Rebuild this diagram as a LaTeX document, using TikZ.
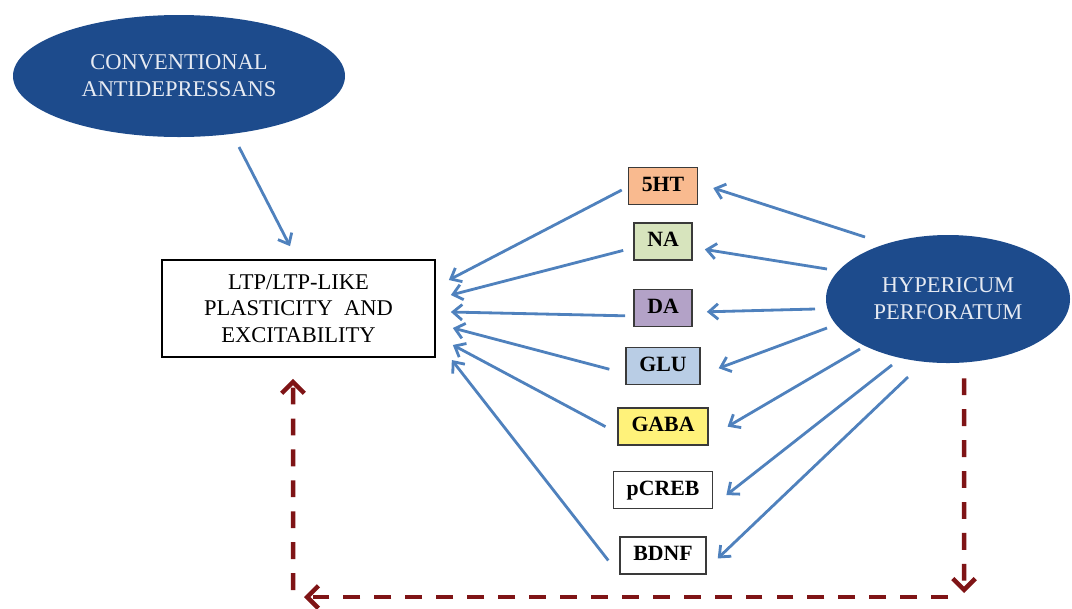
\documentclass[tikz,border=0pt]{standalone}
\usepackage{fontspec}
\setmainfont{Liberation Serif}
\usepackage{xcolor}
\usepackage{tikz}
\usetikzlibrary{arrows.meta, positioning, shapes.geometric}

\definecolor{navy}{HTML}{1D4B8C}
\definecolor{paleblue}{HTML}{E6EAF2}
\definecolor{linkblue}{HTML}{4F81BD}
\definecolor{boxgray}{HTML}{3A3A3A}
\definecolor{darkred}{HTML}{7F1416}
\definecolor{serfill}{HTML}{F9BA8F}
\definecolor{nafill}{HTML}{D7E4BD}
\definecolor{dafill}{HTML}{B3A2C7}
\definecolor{glufill}{HTML}{B9CDE5}
\definecolor{gabafill}{HTML}{FFF27A}

\begin{document}
\begin{tikzpicture}[
                ellip/.style={ellipse, fill=navy, text=paleblue, inner sep=0pt, align=center, font=\fontsize{16}{19}\selectfont},
                target/.style={draw=black, line width=1.2pt, align=center, minimum width=6.825cm, minimum height=2.425cm, font=\fontsize{16}{19}\selectfont},
                mbox/.style={draw=boxgray, line width=1pt, inner xsep=9.5pt, minimum height=0.925cm, text height=11pt, text depth=3.5pt, font=\bfseries\fontsize{15.5}{18}\selectfont},
                link/.style={-{Straight Barb[length=6.5pt,width=11pt]}, line width=2pt, draw=linkblue},
                feedback/.style={-{Straight Barb[length=8pt,width=16pt]}, line width=3.2pt, draw=darkred, dash pattern=on 12pt off 10pt},
            ]
                \useasboundingbox (0,0) rectangle (26.8,-15.2);

                % Drug ellipses
                \node[ellip, minimum width=8.3cm, minimum height=3.05cm] (conv) at (4.475,-1.9) {CONVENTIONAL\\ANTIDEPRESSANS};
                \node[ellip, minimum width=6.1cm, minimum height=3.2cm] (hyp) at (23.7,-7.475) {HYPERICUM\\PERFORATUM};

                % Plasticity box
                \node[target] (ltp) at (7.4625,-7.7125) {LTP/LTP-LIKE\\PLASTICITY \ AND\\EXCITABILITY};

                % Mediators
                \node[mbox, fill=serfill] (ser) at (16.575,-4.65) {5HT};
                \node[mbox, fill=nafill, below=0.425cm of ser] (na) {NA};
                \node[mbox, fill=dafill, below=0.7cm of na] (da) {DA};
                \node[mbox, fill=glufill, below=0.5cm of da] (glu) {GLU};
                \node[mbox, fill=gabafill, below=0.55cm of glu] (gaba) {GABA};
                \node[mbox, fill=white, below=0.625cm of gaba] (pcreb) {pCREB};
                \node[mbox, fill=white, below=0.675cm of pcreb] (bdnf) {BDNF};

                % Conventional drugs act on plasticity
                \draw[link] ([shift={(1.5,-1.775)}]conv.center) -- ([shift={(-0.2125,0.325)}]ltp.north);

                % Mediators to plasticity
                \draw[link] ([shift={(-0.15,-0.1)}]ser.west) -- ([shift={(0.325,0.7125)}]ltp.east);
                \draw[link] ([shift={(-0.25,-0.225)}]na.west) -- ([shift={(0.375,0.3375)}]ltp.east);
                \draw[link] ([shift={(-0.2,-0.2)}]da.west) -- ([shift={(0.375,-0.0875)}]ltp.east);
                \draw[link] ([shift={(-0.4,-0.075)}]glu.west) -- ([shift={(0.425,-0.4875)}]ltp.east);
                \draw[link] ([shift={(-0.3,0)}]gaba.west) -- ([shift={(0.425,-0.9125)}]ltp.east);
                \draw[link] ([shift={(-0.275,-0.125)}]bdnf.west) -- ([shift={(0.4,-1.2875)}]ltp.east);

                % Hypericum to mediators
                \draw[link] ([shift={(-2.075,1.55)}]hyp.center) -- ([shift={(0.375,-0.05)}]ser.east);
                \draw[link] ([shift={(-3.025,0.75)}]hyp.center) -- ([shift={(0.3,-0.2)}]na.east);
                \draw[link] ([shift={(-3.325,-0.25)}]hyp.center) -- ([shift={(0.35,-0.1)}]da.east);
                \draw[link] ([shift={(-3.025,-0.725)}]hyp.center) -- ([shift={(0.45,-0.05)}]glu.east);
                \draw[link] ([shift={(-2.2,-1.25)}]hyp.center) -- ([shift={(0.475,0)}]gaba.east);
                \draw[link] ([shift={(-1.4,-1.65)}]hyp.center) -- ([shift={(0.325,-0.125)}]pcreb.east);
                \draw[link] ([shift={(-1.0,-1.95)}]hyp.center) -- ([shift={(0.275,-0.075)}]bdnf.east);

                % Feedback loop corners
                \coordinate (br) at (24.1,-14.925);
                \coordinate (bl) at (7.325,-14.925);

                % Dashed feedback loop
                \draw[feedback, shorten >=0.1cm] ([shift={(0.4,-0.375)}]hyp.south) -- (br);
                \draw[feedback, shorten <=0.4cm, shorten >=0.275cm] (br) -- (bl);
                \draw[feedback, shorten <=0.175cm] (bl) -- ([shift={(-0.1375,-0.525)}]ltp.south);
            \end{tikzpicture}
\end{document}
